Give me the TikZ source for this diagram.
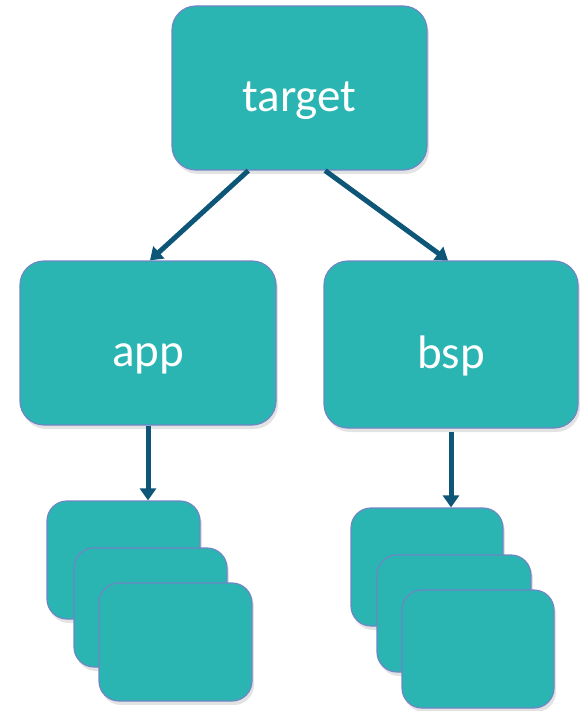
\documentclass[tikz,border=0pt]{standalone}
\usepackage{fontspec}
\setmainfont{Carlito}
\usetikzlibrary{shadows,arrows.meta,calc}
\definecolor{boxfill}{HTML}{2AB5B3}
\definecolor{boxline}{HTML}{6F86C4}
\definecolor{arrowcol}{HTML}{0E5677}
\tikzset{
  box/.style={rectangle, rounded corners=24pt, fill=boxfill, draw=boxline, line width=1.2pt,
    text=white, font=\fontsize{47}{50}\selectfont, inner sep=0pt,
    text height=47pt, text depth=0pt,
    drop shadow={opacity=0.22, shadow xshift=2pt, shadow yshift=-4pt}},
  smallbox/.style={box, rounded corners=20pt},
  conn/.style={draw=arrowcol, line width=5pt, -{Triangle[width=16pt,length=12pt]}}
}
\begin{document}
\begin{tikzpicture}[x=1pt,y=1pt]
\useasboundingbox (0,0) rectangle (580,-711);
\node[box, minimum width=255pt, minimum height=164pt] (target) at (299.5,-88) {target};
\node[box, minimum width=256pt, minimum height=164pt] (app) at (148,-343) {app};
\node[box, minimum width=254pt, minimum height=167pt] (bsp) at (451,-344.5) {bsp};
\node[smallbox, minimum width=153pt, minimum height=118pt] (l1) at (123.5,-560) {};
\node[smallbox, minimum width=153pt, minimum height=119pt] (l2) at (150.5,-607.5) {};
\node[smallbox, minimum width=153pt, minimum height=118pt] (l3) at (175.5,-642) {};
\node[smallbox, minimum width=152pt, minimum height=118pt] (r1) at (427,-567) {};
\node[smallbox, minimum width=154pt, minimum height=117pt] (r2) at (454,-613.5) {};
\node[smallbox, minimum width=152pt, minimum height=118pt] (r3) at (478,-649) {};
\draw[conn] ($(target.south west)!0.3!(target.south east)$) -- ([xshift=2pt]app.north);
\draw[conn] ($(target.south west)!0.6!(target.south east)$) -- ([xshift=-3pt]bsp.north);
\draw[conn] (app.south) -- (l1.north -| app.south);
\draw[conn] ([yshift=-3pt]bsp.south) -- (r1.north -| bsp.south);
\end{tikzpicture}
\end{document}
